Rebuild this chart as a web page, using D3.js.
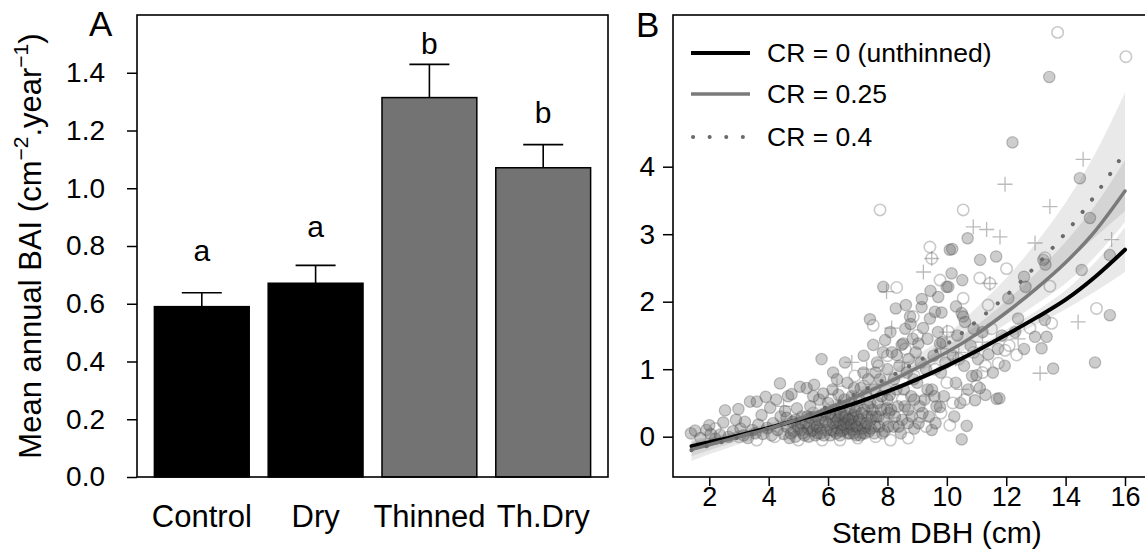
<!DOCTYPE html>
<html><head><meta charset="utf-8">
<script src="https://cdn.jsdelivr.net/npm/d3@7"></script>
<style>html,body{margin:0;padding:0;background:#fff}svg{display:block;font-family:"Liberation Sans",Arial,sans-serif}</style>
</head><body><svg id="c" width="1145" height="549"></svg>
<script>
// ---------- Panel A data ----------
const categories = ["Control","Dry","Thinned","Th.Dry"];
const meanBAI = [0.59, 0.671, 1.314, 1.071];
const errTop = [0.638, 0.733, 1.429, 1.151];
const letters = ["a","a","b","b"];
const letterY = [0.786, 0.866, 1.502, 1.261];
const barFill = ["#000000","#000000","#737373","#737373"];
const yTicksA = [0,0.2,0.4,0.6,0.8,1.0,1.2,1.4];

// ---------- Panel B data ----------
const curveX = [1.4,2,3,4,5,6,7,8,9,10,11,12,13,14,15,16];
const cr0 = [-0.14,-0.08,0.02,0.13,0.25,0.37,0.51,0.67,0.85,1.05,1.27,1.51,1.76,2.03,2.37,2.77];
const cr025 = [-0.19,-0.12,0.0,0.12,0.26,0.42,0.6,0.8,1.02,1.25,1.52,1.84,2.19,2.58,3.05,3.64];
const cr04 = [-0.2,-0.13,-0.01,0.12,0.27,0.45,0.65,0.87,1.11,1.37,1.71,2.09,2.53,3.02,3.58,4.22];
const cr0Half = [0.07,0.06,0.05,0.04,0.035,0.03,0.03,0.035,0.04,0.05,0.06,0.08,0.1,0.14,0.22,0.33];
const cr025Half = [0.1,0.08,0.06,0.05,0.04,0.04,0.04,0.05,0.07,0.1,0.13,0.17,0.23,0.31,0.38,0.46];
const cr04Half = [0.16,0.13,0.1,0.08,0.07,0.06,0.06,0.07,0.1,0.14,0.2,0.26,0.34,0.45,0.62,0.88];
const xTicksB = [2,4,6,8,10,12,14,16];
const yTicksB = [0,1,2,3,4];
const legendLabels = ["CR = 0 (unthinned)","CR = 0.25","CR = 0.4"];

const filledPts = [
[1.38,0.05],[1.52,0.09],[1.7,-0.02],[1.9,0.1],[2.0,0.17],[2.05,0.04],[2.2,-0.03],[2.36,0.03],[2.47,0.21],[2.53,0.39],[2.65,0.0],[2.8,0.08],[2.9,0.25],[2.98,0.41],[3.05,0.12],[3.15,0.02],[3.2,0.22],[3.3,-0.02],[3.37,0.52],[3.45,0.1],[3.55,0.05],[3.6,0.52],[3.65,0.18],[3.76,0.32],[3.8,0.04],[3.9,0.59],[3.95,0.13],
[4.05,0.43],[4.1,0.02],[4.15,0.2],[4.25,0.55],[4.3,0.1],[4.38,0.79],[4.4,0.3],[4.5,0.04],[4.55,0.38],[4.6,0.15],[4.65,0.6],[4.7,-0.02],[4.77,0.63],[4.8,0.22],[4.85,0.08],[4.9,0.0],[4.95,0.42],[4.98,0.16],
[5.05,0.74],[5.08,0.1],[5.12,0.3],[5.2,0.02],[5.25,0.2],[5.28,0.72],[5.32,0.12],[5.35,0.0],[5.4,0.45],[5.45,0.08],[5.5,0.6],[5.53,0.77],[5.55,0.18],[5.6,0.3],[5.65,0.05],[5.7,0.55],[5.72,0.12],[5.78,1.15],[5.8,0.22],[5.84,0.64],[5.86,0.02],[5.9,0.35],[5.95,0.1],
[6.0,0.5],[6.03,0.18],[6.07,0.02],[6.1,0.28],[6.15,0.7],[6.17,0.95],[6.2,0.08],[6.22,0.4],[6.27,0.22],[6.3,0.85],[6.32,0.12],[6.35,0.62],[6.38,0.3],[6.4,0.02],[6.43,0.18],[6.47,0.45],[6.5,0.1],[6.52,0.28],[6.55,0.55],[6.57,1.1],[6.6,0.2],[6.62,0.35],[6.65,0.8],[6.67,0.05],[6.7,0.15],[6.72,0.42],[6.75,0.25],[6.8,0.6],[6.82,0.1],[6.85,0.32],[6.88,0.72],[6.9,0.2],[6.95,0.02],[6.97,0.45],
[7.0,0.3],[7.03,0.12],[7.05,0.55],[7.1,0.72],[7.12,0.22],[7.15,0.05],[7.19,0.95],[7.2,1.2],[7.22,0.4],[7.25,0.15],[7.28,0.62],[7.32,0.3],[7.35,0.85],[7.38,0.08],[7.41,1.74],[7.42,0.5],[7.45,0.25],[7.5,0.4],[7.52,1.36],[7.55,0.7],[7.58,0.15],[7.6,0.95],[7.65,1.1],[7.67,0.5],[7.7,0.3],[7.75,0.85],[7.8,0.6],[7.85,1.25],[7.86,2.22],[7.92,1.43],[7.9,0.08],[7.95,0.7],[7.98,0.42],
[8.0,1.0],[8.05,0.35],[8.08,0.62],[8.1,1.55],[8.15,1.25],[8.2,0.15],[8.22,0.85],[8.28,1.9],[8.31,1.21],[8.35,0.45],[8.4,1.05],[8.45,0.05],[8.48,1.36],[8.5,0.25],[8.53,1.38],[8.55,0.7],[8.6,1.6],[8.62,1.95],[8.65,0.95],[8.7,0.4],[8.72,1.15],[8.76,1.78],[8.78,1.67],[8.8,0.6],[8.85,1.45],[8.88,0.85],[8.9,0.12],[8.95,1.25],
[9.0,0.8],[9.04,1.38],[9.08,0.45],[9.12,1.1],[9.15,1.92],[9.16,2.04],[9.2,1.61],[9.25,0.55],[9.3,1.0],[9.35,1.45],[9.4,0.3],[9.43,1.75],[9.45,2.16],[9.49,0.1],[9.5,0.7],[9.55,1.2],[9.6,1.85],[9.62,0.2],[9.65,0.45],[9.7,1.55],[9.71,2.07],[9.77,1.38],[9.77,0.44],[9.8,0.95],[9.82,1.84],[9.85,1.4],[9.9,0.6],[9.95,1.1],[9.99,2.22],
[10.05,2.22],[10.1,2.77],[10.16,2.42],[10.18,2.78],[10.2,1.2],[10.25,0.3],[10.3,0.8],[10.31,1.93],[10.35,1.5],[10.45,0.5],[10.5,-0.04],[10.5,1.83],[10.52,2.32],[10.55,1.78],[10.58,1.05],[10.61,1.7],[10.67,0.16],[10.7,2.94],[10.72,0.7],[10.8,1.35],[10.85,0.9],[10.9,1.6],[10.95,0.54],[11.0,0.91],
[11.05,1.15],[11.11,0.72],[11.12,2.62],[11.2,1.55],[11.3,0.62],[11.4,1.22],[11.55,0.95],[11.66,2.67],[11.68,0.56],[11.72,1.3],[11.77,0.57],[11.85,1.5],[11.95,1.05],
[12.07,2.05],[12.21,4.36],[12.4,1.75],[12.3,1.55],[12.6,1.3],[12.6,2.37],[12.65,2.22],[12.97,1.48],[13.19,1.31],[13.25,2.62],[13.3,1.73],[13.32,2.55],[13.36,1.48],[13.45,5.33],[13.58,1.01],[14.48,3.83],[14.54,2.47],[14.82,3.24],[14.99,1.10],[15.49,2.69],[15.49,1.80],
[4.6,0.28],[4.75,0.05],[4.9,0.25],[5.0,0.12],[5.1,0.2],[5.15,0.05],[5.3,0.3],[5.38,0.18],[5.42,0.28],[5.5,0.1],[5.58,0.02],[5.62,0.15],[5.68,0.25],[5.75,0.05],[5.82,0.32],[5.92,0.22],[6.05,0.35],[6.12,0.1],[6.18,0.2],[6.25,0.3],[6.28,0.05],[6.33,0.25],[6.42,0.35],[6.45,0.08],[6.53,0.18],[6.58,0.3],[6.63,0.12],[6.68,0.25],[6.73,0.05],[6.78,0.18],[6.83,0.28],[6.87,0.05],[6.92,0.38],[6.98,0.15],[7.05,0.25],[7.08,0.02],[7.13,0.35],[7.18,0.12],[7.24,0.05],[7.3,0.2],[7.36,0.45],[7.44,0.12],[7.48,0.3],[7.56,0.05],[7.62,0.3],[7.72,0.15],[7.78,0.4],[7.83,0.05],[7.88,0.25],[8.02,0.15],[8.12,0.4],[8.25,0.3],[8.38,0.15],[8.58,0.45],[8.68,0.2],[8.82,0.3],[9.05,0.2],[9.18,0.35],[9.35,0.7],[9.58,0.6],[8.0,0.55],[8.3,0.7],[8.9,0.55]
];
const openPts = [
[13.73,5.99],[16.03,5.63],[7.75,3.36],[10.55,3.36],[9.43,2.81],[9.49,2.64],[12.01,2.49],[13.3,2.65],[9.77,2.32],[11.11,2.35],[11.45,2.27],[8.31,2.21],[13.47,2.23],[10.55,2.05],[11.39,1.95],[15.04,1.90],[13.53,1.68],[7.52,1.65],[12.80,1.61],[12.35,1.21],[11.96,1.28],[8.87,1.78],[10.05,1.56],[10.1,0.17],[11.73,1.09],
[2.2,0.12],[3.0,0.0],[3.6,-0.05],[4.2,0.0],[4.8,0.1],[5.0,-0.05],[5.5,0.35],[5.8,-0.05],[6.1,0.55],[6.4,-0.05],[6.8,0.5],[7.0,-0.02],[7.3,0.25],[7.6,0.0],[7.9,0.4],[8.1,-0.05],[8.3,0.2],[8.5,0.55],[8.7,-0.02],[8.9,0.9],[9.1,0.3],[9.3,0.15],[9.6,1.0],[9.8,0.35],[10.0,0.8],[10.2,0.5],[10.4,1.15],[10.6,0.55],[10.9,1.25],[11.2,0.95],[11.5,1.6],[8.0,1.2],[8.6,1.3],[9.0,1.5],[7.7,1.05],[7.2,0.75],[6.9,0.9],[11.0,0.75],[11.3,1.05],[12.1,1.35]
];
const plusPts = [
[14.59,4.11],[11.96,3.74],[13.47,3.41],[10.89,3.11],[11.34,3.07],[11.79,2.96],[12.97,2.87],[15.55,2.92],[9.49,2.64],[9.21,2.44],[11.45,2.27],[7.97,2.15],[14.42,1.70],[8.14,1.61],[13.14,0.94],[6.3,0.75],[6.8,1.1],[7.3,1.0],[8.5,1.1],[9.3,0.6],[10.3,1.15],[10.5,0.7],[11.2,1.4],[10.0,1.55],[12.4,1.45],[10.4,1.25],[9.8,1.3],[5.4,0.25],[4.5,0.45]
];

const svg = d3.select("#c");
const TICKF = 28, LABF = 31;

// ================= Panel A =================
const A = {left:137, right:608, top:15, bottom:477};
const xA = d3.scaleBand().domain(categories).range([144.9, 600.1]).paddingInner(1/6).paddingOuter(1/12);
const yA = d3.scaleLinear().domain([0,1.6]).range([A.bottom, A.top]);
const gA = svg.append("g");

gA.selectAll("rect.bar").data(categories).join("rect")
  .attr("x", d=>xA(d)).attr("width", xA.bandwidth())
  .attr("y", (d,i)=>yA(meanBAI[i])).attr("height",(d,i)=>yA(0)-yA(meanBAI[i]))
  .attr("fill",(d,i)=>barFill[i]).attr("stroke","#000").attr("stroke-width",1.5);
gA.selectAll("line.err").data(categories).join("line")
  .attr("x1", d=>xA(d)+xA.bandwidth()/2).attr("x2", d=>xA(d)+xA.bandwidth()/2)
  .attr("y1",(d,i)=>yA(meanBAI[i])).attr("y2",(d,i)=>yA(errTop[i]))
  .attr("stroke","#000").attr("stroke-width",1.6);
gA.selectAll("line.cap").data(categories).join("line")
  .attr("x1", d=>xA(d)+xA.bandwidth()/2-20).attr("x2", d=>xA(d)+xA.bandwidth()/2+20)
  .attr("y1",(d,i)=>yA(errTop[i])).attr("y2",(d,i)=>yA(errTop[i]))
  .attr("stroke","#000").attr("stroke-width",1.6);
gA.selectAll("text.let").data(letters).join("text")
  .attr("x",(d,i)=>xA(categories[i])+xA.bandwidth()/2).attr("y",(d,i)=>yA(letterY[i]))
  .attr("text-anchor","middle").attr("dominant-baseline","central")
  .attr("font-size",30).text(d=>d);
gA.append("rect").attr("x",A.left).attr("y",A.top).attr("width",A.right-A.left).attr("height",A.bottom-A.top)
  .attr("fill","none").attr("stroke","#000").attr("stroke-width",1.6);
const axA = gA.append("g").attr("transform",`translate(${A.left},0)`)
  .call(d3.axisLeft(yA).tickValues(yTicksA).tickFormat(d3.format(".1f")).tickSize(10).tickPadding(22));
axA.select(".domain").remove();
axA.selectAll("line").attr("stroke","#000").attr("stroke-width",1.5);
axA.selectAll("text").attr("font-size",TICKF).attr("font-family","Liberation Sans, Arial").attr("fill","#000");
const axAx = gA.append("g").attr("transform",`translate(0,${A.bottom})`)
  .call(d3.axisBottom(xA).tickSize(0).tickPadding(28));
axAx.select(".domain").remove();
axAx.selectAll("text").attr("font-size",LABF).attr("font-family","Liberation Sans, Arial").attr("fill","#000");
const yl = gA.append("text").attr("transform",`translate(41,${(A.top+A.bottom)/2}) rotate(-90)`)
  .attr("text-anchor","middle").attr("font-size",LABF);
yl.append("tspan").text("Mean annual BAI (cm");
yl.append("tspan").attr("font-size",21).attr("dy",-13).text("\u22122");
yl.append("tspan").attr("dy",13).text(".year");
yl.append("tspan").attr("font-size",21).attr("dy",-13).text("\u22121");
yl.append("tspan").attr("dy",13).text(")");
gA.append("text").attr("x",89).attr("y",36).attr("font-size",35).text("A");

// ================= Panel B =================
const B = {left:673, right:1200, top:15, bottom:477};
const xB = d3.scaleLinear().domain([2,16]).range([709.3,1125]);
const yB = d3.scaleLinear().domain([0,4]).range([436.7,166.7]);
const gB = svg.append("g");
svg.append("clipPath").attr("id","clipB").append("rect")
  .attr("x",B.left).attr("y",B.top).attr("width",B.right-B.left).attr("height",B.bottom-B.top);
const plotB = gB.append("g").attr("clip-path","url(#clipB)");

const curves = [
  {y:cr0, h:cr0Half, stroke:"#000000", dash:null, w:4},
  {y:cr025, h:cr025Half, stroke:"#7a7a7a", dash:null, w:3.5},
  {y:cr04, h:cr04Half, stroke:"#6a6a6a", dash:"0.1,15.5", w:4}
];
const area = d3.area().curve(d3.curveMonotoneX).x(d=>xB(d.x)).y0(d=>yB(d.lo)).y1(d=>yB(d.hi));
const line = d3.line().curve(d3.curveMonotoneX).x(d=>xB(d.x)).y(d=>yB(d.y));
curves.forEach(c=>{
  const pts = curveX.map((x,i)=>({x, y:c.y[i], lo:c.y[i]-c.h[i], hi:c.y[i]+c.h[i]}));
  plotB.append("path").datum(pts).attr("d",area).attr("fill","rgba(0,0,0,0.085)");
});
plotB.selectAll("circle.f").data(filledPts).join("circle")
  .attr("cx",d=>xB(d[0])).attr("cy",d=>yB(d[1])).attr("r",5.7)
  .attr("fill","rgba(100,100,100,0.32)").attr("stroke","rgba(60,60,60,0.3)").attr("stroke-width",1.2);
plotB.selectAll("circle.o").data(openPts).join("circle")
  .attr("cx",d=>xB(d[0])).attr("cy",d=>yB(d[1])).attr("r",5.7)
  .attr("fill","none").attr("stroke","rgba(120,120,120,0.4)").attr("stroke-width",1.6);
plotB.selectAll("path.p").data(plusPts).join("path")
  .attr("d",d=>{const x=xB(d[0]),y=yB(d[1]);return `M${x-7.5},${y}H${x+7.5}M${x},${y-7.5}V${y+7.5}`;})
  .attr("stroke","rgba(120,120,120,0.5)").attr("stroke-width",1.3).attr("fill","none");
curves.forEach(c=>{
  const pts = curveX.map((x,i)=>({x, y:c.y[i]}));
  const p = plotB.append("path").datum(pts).attr("d",line).attr("fill","none")
    .attr("stroke",c.stroke).attr("stroke-width",c.w).attr("stroke-linecap","round");
  if(c.dash) p.attr("stroke-dasharray",c.dash);
});
gB.append("rect").attr("x",B.left).attr("y",B.top).attr("width",B.right-B.left).attr("height",B.bottom-B.top)
  .attr("fill","none").attr("stroke","#000").attr("stroke-width",1.6);
const axBy = gB.append("g").attr("transform",`translate(${B.left},0)`)
  .call(d3.axisLeft(yB).tickValues(yTicksB).tickFormat(d3.format("d")).tickSize(10).tickPadding(8));
axBy.select(".domain").remove();
axBy.selectAll("line").attr("stroke","#000").attr("stroke-width",1.5);
axBy.selectAll("text").attr("font-size",TICKF).attr("font-family","Liberation Sans, Arial").attr("fill","#000");
const axBx = gB.append("g").attr("transform",`translate(0,${B.bottom})`)
  .call(d3.axisBottom(xB).tickValues(xTicksB).tickFormat(d3.format("d")).tickSize(9).tickPadding(1));
axBx.select(".domain").remove();
axBx.selectAll("line").attr("stroke","#000").attr("stroke-width",1.5);
axBx.selectAll("text").attr("font-size",27).attr("font-family","Liberation Sans, Arial").attr("fill","#000");
gB.append("text").attr("x",936.7).attr("y",542.5).attr("text-anchor","middle").attr("font-size",30).text("Stem DBH (cm)");
gB.append("text").attr("x",636).attr("y",37).attr("font-size",35).text("B");
const legY = [53, 94, 137];
curves.forEach((c,i)=>{
  const l = gB.append("line").attr("x1",691).attr("x2",750).attr("y1",legY[i]).attr("y2",legY[i])
    .attr("stroke",c.stroke).attr("stroke-width",c.w);
  if(c.dash) l.attr("stroke-dasharray","0.1,16.5").attr("stroke-linecap","round").attr("x1",693);
  gB.append("text").attr("x",767).attr("y",legY[i]).attr("dominant-baseline","central")
    .attr("font-size",26.5).text(legendLabels[i]);
});
</script></body></html>
